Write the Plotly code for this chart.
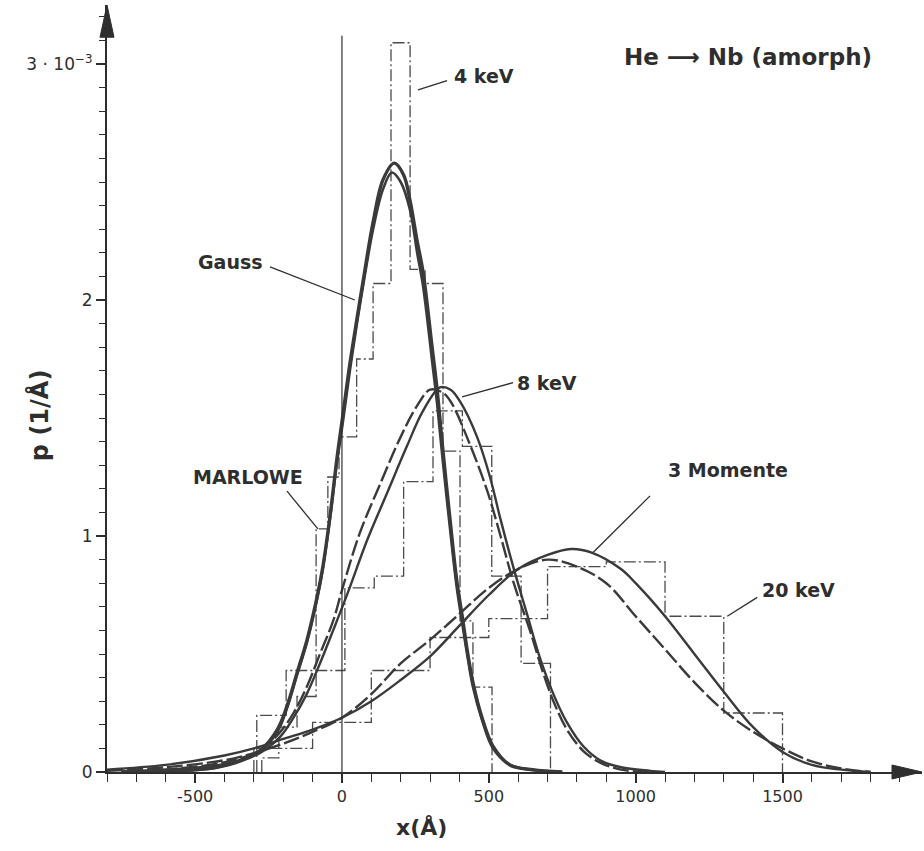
import plotly.graph_objects as go

# ---------------- data (y in units of 1e-3 1/Å, x in Å) ----------------
# MARLOWE histograms
hist4_edges = [-273, -215, -153, -88, -48, -10, 50, 106, 167, 232, 283, 344, 402, 446, 511]
hist4_vals = [0.06, 0.19, 0.32, 1.03, 1.25, 1.42, 1.75, 2.07, 3.09, 2.13, 2.07, 1.36, 0.64, 0.36]

hist8_edges = [-290, -190, -90, 10, 110, 210, 310, 410, 510, 610, 710]
hist8_vals = [0.24, 0.43, 0.43, 0.78, 0.83, 1.23, 1.53, 1.38, 0.83, 0.46]

hist20_edges = [-300, -100, 100, 300, 500, 700, 900, 1100, 1300, 1500]
hist20_vals = [0.10, 0.21, 0.43, 0.57, 0.65, 0.87, 0.89, 0.66, 0.25]

# 4 keV curves
c4a_x = [-750, -600, -500, -430, -345, -280, -220, -187, -153, -119, -85, -65, -41, -17, 4, 27, 51, 72, 106, 140, 178, 210, 232, 256, 276, 307, 324, 344, 368, 391, 412, 426, 446, 477, 514, 572, 650, 750]
c4a_y = [0.0, 0.005, 0.01, 0.02, 0.05, 0.09, 0.18, 0.28, 0.42, 0.56, 0.74, 0.87, 1.08, 1.33, 1.52, 1.73, 1.92, 2.08, 2.33, 2.51, 2.58, 2.53, 2.42, 2.25, 2.12, 1.80, 1.62, 1.36, 1.07, 0.81, 0.64, 0.52, 0.38, 0.23, 0.11, 0.03, 0.01, 0.0]
c4b_x = [-750, -600, -500, -430, -345, -280, -220, -187, -153, -119, -85, -65, -41, -17, 4, 27, 51, 72, 106, 140, 170, 200, 232, 256, 276, 307, 324, 344, 368, 391, 412, 426, 446, 477, 514, 572, 650, 750]
c4b_y = [0.0, 0.004, 0.008, 0.017, 0.045, 0.085, 0.17, 0.27, 0.41, 0.55, 0.73, 0.86, 1.07, 1.31, 1.49, 1.70, 1.90, 2.06, 2.30, 2.47, 2.54, 2.50, 2.38, 2.20, 2.06, 1.74, 1.56, 1.31, 1.03, 0.78, 0.61, 0.50, 0.36, 0.22, 0.10, 0.03, 0.008, 0.0]

# 8 keV curves
c8d_x = [-750, -600, -450, -370, -280, -210, -165, -120, -75, -30, 0, 60, 130, 200, 255, 300, 340, 370, 435, 495, 540, 585, 640, 685, 720, 766, 821, 879, 950, 1050]
c8d_y = [0.0, 0.01, 0.03, 0.05, 0.09, 0.17, 0.25, 0.36, 0.50, 0.64, 0.77, 1.01, 1.22, 1.42, 1.55, 1.62, 1.61, 1.57, 1.39, 1.19, 1.00, 0.80, 0.60, 0.42, 0.30, 0.18, 0.09, 0.04, 0.01, 0.0]
c8s_x = [-750, -600, -450, -370, -280, -210, -165, -120, -75, -30, 20, 85, 153, 221, 276, 334, 370, 402, 460, 504, 538, 583, 630, 675, 720, 766, 821, 879, 950, 1050, 1100]
c8s_y = [0.0, 0.01, 0.025, 0.04, 0.08, 0.15, 0.23, 0.33, 0.46, 0.60, 0.76, 0.98, 1.18, 1.38, 1.53, 1.63, 1.62, 1.57, 1.42, 1.25, 1.08, 0.87, 0.67, 0.48, 0.33, 0.21, 0.11, 0.05, 0.02, 0.005, 0.0]

# 20 keV curves
c20s_x = [-800, -600, -400, -300, -200, -100, 0, 100, 200, 300, 400, 500, 600, 700, 780, 850, 950, 1000, 1100, 1200, 1300, 1400, 1500, 1600, 1700, 1800]
c20s_y = [0.01, 0.03, 0.07, 0.10, 0.14, 0.18, 0.23, 0.30, 0.39, 0.49, 0.62, 0.75, 0.86, 0.92, 0.945, 0.93, 0.86, 0.80, 0.66, 0.50, 0.34, 0.19, 0.085, 0.03, 0.01, 0.0]
c20d_x = [-800, -600, -400, -300, -200, -100, 0, 100, 200, 300, 400, 500, 600, 700, 800, 900, 1000, 1100, 1200, 1300, 1400, 1500, 1600, 1700, 1800]
c20d_y = [0.005, 0.02, 0.05, 0.08, 0.12, 0.17, 0.23, 0.33, 0.46, 0.56, 0.67, 0.78, 0.86, 0.90, 0.87, 0.80, 0.66, 0.52, 0.38, 0.26, 0.17, 0.10, 0.045, 0.015, 0.0]

# axis ticks
x_tickvals = [-500, 0, 500, 1000, 1500]
x_ticktext = ["-500", "0", "500", "1000", "1500"]
y_tickvals = [0, 1, 2, 3]
y_ticktext = ["0", "1", "2", "3 · 10<sup>−3</sup>"]

# labels: text, text position, pointer segment
labels = [
    ("4 keV", 373, 2.95, "left", (259, 2.89, 358, 2.93)),
    ("Gauss", -378, 2.16, "center", (-245, 2.14, 44, 2.00)),
    ("8 keV", 589, 1.65, "left", (409, 1.59, 583, 1.65)),
    ("MARLOWE", -320, 1.25, "center", (-187, 1.19, -82, 1.03)),
    ("3 Momente", 1315, 1.28, "center", (855, 0.93, 1049, 1.17)),
    ("20 keV", 1424, 0.77, "left", (1312, 0.66, 1414, 0.74)),
]

INK = "#2e2e2e"
FONT = "DejaVu Sans"


def hist_xy(edges, vals):
    xs = [edges[0]] + list(edges)
    ys = [0] + list(vals) + [0]
    return xs, ys


fig = go.Figure()

for edges, vals in [(hist4_edges, hist4_vals), (hist8_edges, hist8_vals), (hist20_edges, hist20_vals)]:
    hx, hy = hist_xy(edges, vals)
    fig.add_trace(go.Scatter(x=hx, y=hy, mode="lines", line=dict(shape="hv", color="#4a4a4a", width=1.3, dash="12px,3px,2px,3px"), hoverinfo="skip"))

curve_specs = [
    (c4a_x, c4a_y, 3.4, "solid"),
    (c4b_x, c4b_y, 2.6, "solid"),
    (c8s_x, c8s_y, 2.4, "solid"),
    (c8d_x, c8d_y, 2.4, "16px,4px"),
    (c20s_x, c20s_y, 2.4, "solid"),
    (c20d_x, c20d_y, 2.4, "16px,4px"),
]
for cx, cy, w, d in curve_specs:
    fig.add_trace(go.Scatter(x=cx, y=cy, mode="lines", line=dict(shape="spline", smoothing=1.0, color="#3a3a3a", width=w, dash=d), hoverinfo="skip"))

# thin vertical reference line at x = 0
fig.add_shape(type="line", x0=0, x1=0, y0=0, y1=3.12, xref="x", yref="y", line=dict(color=INK, width=1.2))

for text, tx, ty, anchor, (x0, y0, x1, y1) in labels:
    fig.add_shape(type="line", x0=x0, y0=y0, x1=x1, y1=y1, xref="x", yref="y", line=dict(color=INK, width=1.3))
    fig.add_annotation(x=tx, y=ty, xref="x", yref="y", text=text, showarrow=False, xanchor=anchor, yanchor="middle",
                       font=dict(family=FONT, size=19, color=INK, weight="bold"))

fig.add_annotation(x=1383, y=3.03, xref="x", yref="y", text="He ⟶ Nb (amorph)", showarrow=False,
                   font=dict(family=FONT, size=23, color=INK, weight="bold"))

# axis titles (paper coordinates so they are not hidden outside the ranges)
fig.add_annotation(x=0.3865, y=-0.073, xref="paper", yref="paper", text="x(Å)", showarrow=False,
                   xanchor="center", yanchor="middle",
                   font=dict(family=FONT, size=22, color=INK, weight="bold"))
fig.add_annotation(x=-0.082, y=0.4655, xref="paper", yref="paper", text="p (1/Å)", showarrow=False, textangle=-90,
                   xanchor="center", yanchor="middle",
                   font=dict(family=FONT, size=24, color=INK, weight="bold"))

# arrow heads of the axes (paper refs so they are not clipped)
fig.add_shape(type="path", xref="paper", yref="paper", ysizemode="pixel", yanchor=0,
              path="M1,0 L0.9632,-7 L0.9632,7 Z", fillcolor=INK, line=dict(color=INK, width=1))
fig.add_shape(type="path", xref="paper", yref="paper", xsizemode="pixel", xanchor=0,
              path="M0,1 L-7,0.958 L7,0.958 Z", fillcolor=INK, line=dict(color=INK, width=1))

fig.update_layout(
    width=924, height=851,
    margin=dict(l=107, r=2, t=5, b=79, pad=0),
    plot_bgcolor="white", paper_bgcolor="white",
    showlegend=False,
    xaxis=dict(range=[-800, 1975], showgrid=False, zeroline=False, showline=True, linecolor=INK, linewidth=2.2,
               ticks="outside", ticklen=9, tickwidth=1.6, tickcolor=INK,
               tickvals=x_tickvals, ticktext=x_ticktext,
               tickfont=dict(family=FONT, size=16, color=INK),
               minor=dict(dtick=100, tick0=0, ticks="outside", ticklen=8, tickwidth=1.4, tickcolor=INK, showgrid=False),
               automargin=False),
    yaxis=dict(range=[0, 3.25], showgrid=False, zeroline=False, showline=True, linecolor=INK, linewidth=2.2,
               ticks="outside", ticklen=9, tickwidth=1.6, tickcolor=INK,
               tickvals=y_tickvals, ticktext=y_ticktext,
               tickfont=dict(family=FONT, size=17, color=INK),
               minor=dict(dtick=0.1, tick0=0, ticks="outside", ticklen=6, tickwidth=1.3, tickcolor=INK, showgrid=False),
               automargin=False),
)

fig.write_html("out.html")
